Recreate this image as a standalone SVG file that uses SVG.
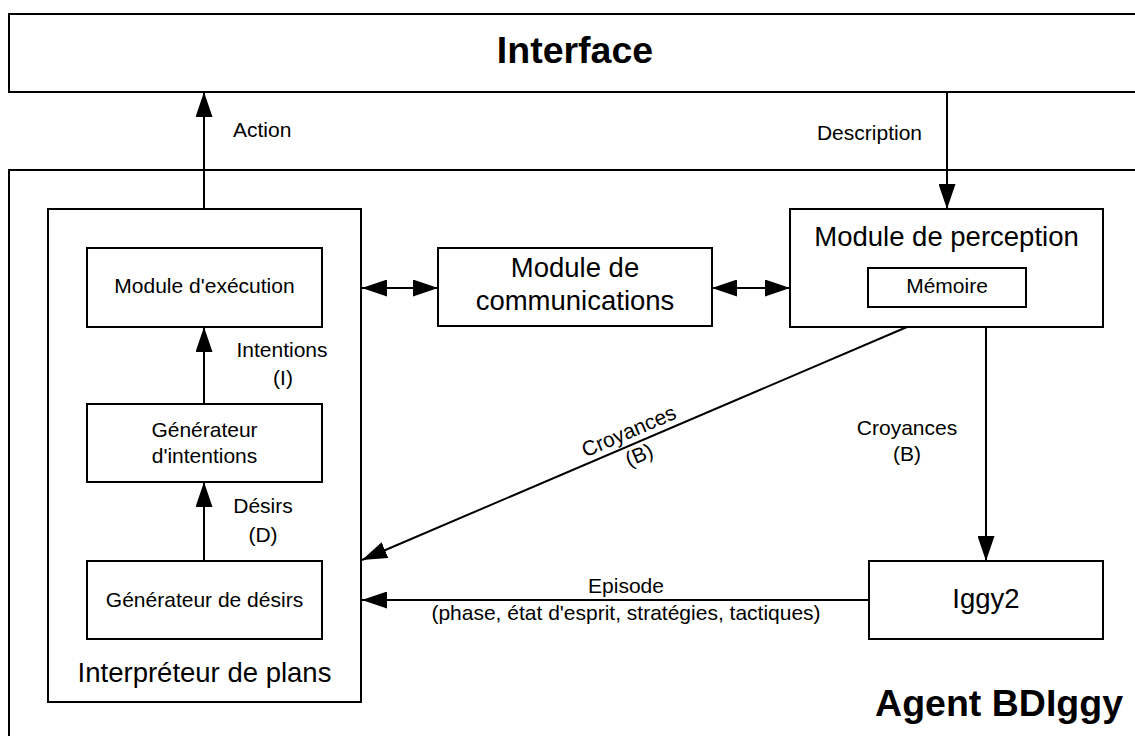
<svg xmlns="http://www.w3.org/2000/svg" width="1135" height="736" viewBox="0 0 1135 736">
<style>
.box{fill:#fff;stroke:#000;stroke-width:2}
.frame{fill:none;stroke:#000;stroke-width:2}
.ln{fill:none;stroke:#000;stroke-width:2}
.arr{marker-end:url(#ah)}
.dbl{marker-start:url(#ah);marker-end:url(#ah)}
text{font-family:"Liberation Sans",Arial,sans-serif;fill:#000}
.s{font-size:21px}
.m{font-size:27.5px}
.t{font-size:37.5px;font-weight:bold}
.c{text-anchor:middle}
</style>
<defs>
<marker id="ah" markerUnits="userSpaceOnUse" markerWidth="25" markerHeight="17" refX="25" refY="8.5" orient="auto-start-reverse" viewBox="0 0 25 17">
<path d="M0,0 L25,8.5 L0,17 z" fill="#000"/>
</marker>
</defs>
<rect width="1135" height="736" fill="#fff"/>
<g id="interface">
<rect class="frame" x="9" y="14" width="1200" height="78"/>
<text class="t c" x="575" y="63">Interface</text>
</g>
<g id="agent">
<rect class="frame" x="9" y="170" width="1200" height="700"/>
<text class="t" x="1123" y="716" text-anchor="end">Agent BDIggy</text>
</g>
<g id="interpreteur">
<rect class="box" x="48" y="209" width="313" height="493"/>
<text class="m c" x="204.5" y="682">Interpréteur de plans</text>
</g>
<g id="execution">
<rect class="box" x="87" y="248" width="235" height="79"/>
<text class="s c" x="204.5" y="293">Module d'exécution</text>
</g>
<g id="gen-intentions">
<rect class="box" x="87" y="404" width="235" height="78"/>
<text class="s c" x="204.5" y="437">Générateur</text>
<text class="s c" x="204.5" y="463">d'intentions</text>
</g>
<g id="gen-desirs">
<rect class="box" x="87" y="561" width="235" height="78"/>
<text class="s c" x="204.5" y="607">Générateur de désirs</text>
</g>
<g id="communications">
<rect class="box" x="438" y="248" width="274" height="78"/>
<text class="m c" x="575" y="277">Module de</text>
<text class="m c" x="575" y="310">communications</text>
</g>
<g id="perception">
<rect class="box" x="790" y="209" width="313" height="118"/>
<text class="m c" x="946.5" y="246">Module de perception</text>
</g>
<g id="memoire">
<rect class="box" x="868" y="268" width="158" height="39"/>
<text class="s c" x="947" y="293">Mémoire</text>
</g>
<g id="iggy2">
<rect class="box" x="869" y="561" width="234" height="78"/>
<text class="m c" x="986" y="608">Iggy2</text>
</g>
<g id="connectors">
<line class="ln arr" x1="204" y1="209" x2="204" y2="92"/>
<line class="ln arr" x1="947" y1="92" x2="947" y2="209"/>
<line class="ln arr" x1="204" y1="404" x2="204" y2="327"/>
<line class="ln arr" x1="204" y1="561" x2="204" y2="482"/>
<line class="ln dbl" x1="362" y1="288" x2="438" y2="288"/>
<line class="ln dbl" x1="712" y1="288" x2="790" y2="288"/>
<line class="ln arr" x1="907" y1="327" x2="362" y2="560"/>
<line class="ln arr" x1="986" y1="327" x2="986" y2="561"/>
<line class="ln arr" x1="869" y1="600" x2="362" y2="600"/>
<text class="s" x="233" y="137">Action</text>
<text class="s" x="922" y="140" text-anchor="end">Description</text>
<text class="s c" x="282" y="357">Intentions</text>
<text class="s c" x="283" y="385">(I)</text>
<text class="s c" x="263" y="513">Désirs</text>
<text class="s c" x="263" y="542">(D)</text>
<g transform="translate(634,443.2) rotate(-23.2)">
<text class="s c" x="0" y="-6">Croyances</text>
<text class="s c" x="0" y="20">(B)</text>
</g>
<text class="s c" x="907" y="435">Croyances</text>
<text class="s c" x="907" y="461">(B)</text>
<text class="s c" x="626" y="593">Episode</text>
<text class="s c" x="626" y="620">(phase, état d'esprit, stratégies, tactiques)</text>
</g>
</svg>
